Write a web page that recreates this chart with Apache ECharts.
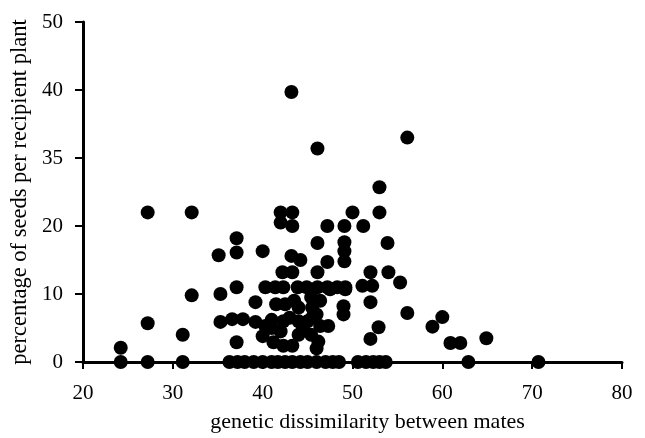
<!DOCTYPE html>
<html>
<head>
<meta charset="utf-8">
<script src="https://cdn.jsdelivr.net/npm/echarts@6/dist/echarts.min.js"></script>
<style>html,body{margin:0;padding:0;background:#fff;}#chart{width:645px;height:438px;}</style>
</head>
<body>
<div id="chart"></div>
<script>
// genetic dissimilarity between mates (x)
var dissimilarity = [
  24.2, 27.2, 31.1, 36.3, 37.2, 38.0, 39.0, 40.0, 41.0, 41.7, 42.5, 43.3, 44.2, 45.0, 46.0, 47.0, 47.8, 48.5,
  50.6, 51.5, 52.3, 53.0, 53.7, 62.9, 70.7,
  24.2, 27.2, 27.2, 31.1, 32.1, 32.1, 35.1, 35.3, 35.3, 36.6, 37.1, 37.1, 37.1, 37.1, 37.8, 39.2, 39.2,
  40.0, 40.3, 40.3, 40.0, 41.4, 41.2, 41.0, 42.3, 42.3, 42.3, 42.2, 43.3, 42.0, 43.3, 42.0, 43.3, 43.2,
  43.2, 44.2, 43.9, 43.3, 43.5, 42.5, 44.9, 45.0, 45.4, 45.5, 45.4, 46.1, 46.1, 46.1, 46.1, 46.0, 46.4,
  46.4, 46.2, 46.0, 47.2, 47.2, 47.2, 47.3, 48.3, 49.1, 49.1, 49.1, 49.1, 49.2, 49.0, 49.0, 50.0, 51.2,
  51.1, 52.2, 52.0, 52.0, 52.9, 52.0, 53.0, 53.0, 53.9, 54.0, 55.3, 56.1, 56.1, 58.9, 60.0, 60.9, 62.0, 64.9,
  41.5, 44.0, 43.0, 44.0, 41.0, 42.0, 44.0, 44.5, 45.5, 47.5, 49.2
];
// percentage of seeds per recipient plant (y)
var seedPercent = [
  0, 0, 0, 0, 0, 0, 0, 0, 0, 0, 0, 0, 0, 0, 0, 0, 0, 0,
  0, 0, 0, 0, 0, 0, 0,
  2.1, 5.7, 22, 4.0, 22, 9.8, 15.7, 10, 5.9, 6.3, 18.2, 16.1, 11, 2.9, 6.3, 8.8, 5.9,
  16.3, 11, 5.3, 3.8, 11, 2.9, 6.2, 11, 6.0, 2.4, 13.2, 13.2, 22, 22, 20.5, 20, 39.7,
  15.6, 15.0, 11, 2.4, 9.0, 8.5, 11, 6.0, 9.5, 8.0, 4.0, 31.4, 17.5, 13.2, 11, 7.0, 9.0,
  5.3, 3.0, 2.0, 20, 14.7, 11, 5.3, 11, 20, 17.6, 16.3, 14.8, 11, 8.2, 7.0, 22, 20,
  11.2, 11.2, 13.2, 8.8, 5.1, 3.4, 25.7, 22, 17.5, 13.2, 11.7, 33.0, 7.2, 5.2, 6.6, 2.8, 2.8, 3.5,
  8.5, 8.0, 6.5, 6.0, 5.0, 4.5, 4.0, 5.0, 6.5, 10.7, 10.7
];
var xTicks = ['20', '30', '40', '50', '60', '70', '80'];
var yTicks = ['0', '10', '20', '35', '40', '50'];

var points = dissimilarity.map(function (x, i) { return [x, seedPercent[i]]; });
var font = '"Liberation Serif", "Times New Roman", serif';

var chart = echarts.init(document.getElementById('chart'));
chart.setOption({
  animation: false,
  backgroundColor: '#fff',
  grid: { left: 83, right: 23, top: 22, bottom: 75 },
  xAxis: {
    type: 'value', min: 20, max: 80, interval: 10,
    name: 'genetic dissimilarity between mates',
    nameLocation: 'middle', nameGap: 49,
    nameTextStyle: { fontFamily: font, fontSize: 22, color: '#000', padding: [0, 0, 0, 30] },
    axisLine: { show: true, onZero: false, lineStyle: { color: '#000', width: 3 } },
    axisTick: { show: true, inside: false, length: 7, lineStyle: { color: '#000', width: 2 } },
    axisLabel: { fontFamily: font, fontSize: 21, color: '#000', margin: 21,
      formatter: function (v) { return xTicks[Math.round((v - 20) / 10)]; } },
    splitLine: { show: false }
  },
  yAxis: {
    type: 'value', min: 0, max: 50, interval: 10,
    name: 'percentage of seeds per recipient plant',
    nameLocation: 'middle', nameGap: 42,
    nameTextStyle: { fontFamily: font, fontSize: 22.5, color: '#000' },
    axisLine: { show: true, lineStyle: { color: '#000', width: 3 } },
    axisTick: { show: true, inside: false, length: 8, lineStyle: { color: '#000', width: 2 } },
    axisLabel: { fontFamily: font, fontSize: 21, color: '#000', margin: 20,
      formatter: function (v) { return yTicks[Math.round(v / 10)]; } },
    splitLine: { show: false }
  },
  series: [{
    type: 'scatter',
    data: points,
    symbol: 'circle',
    symbolSize: 14,
    itemStyle: { color: '#000', opacity: 1 }
  }]
});
</script>
</body>
</html>
